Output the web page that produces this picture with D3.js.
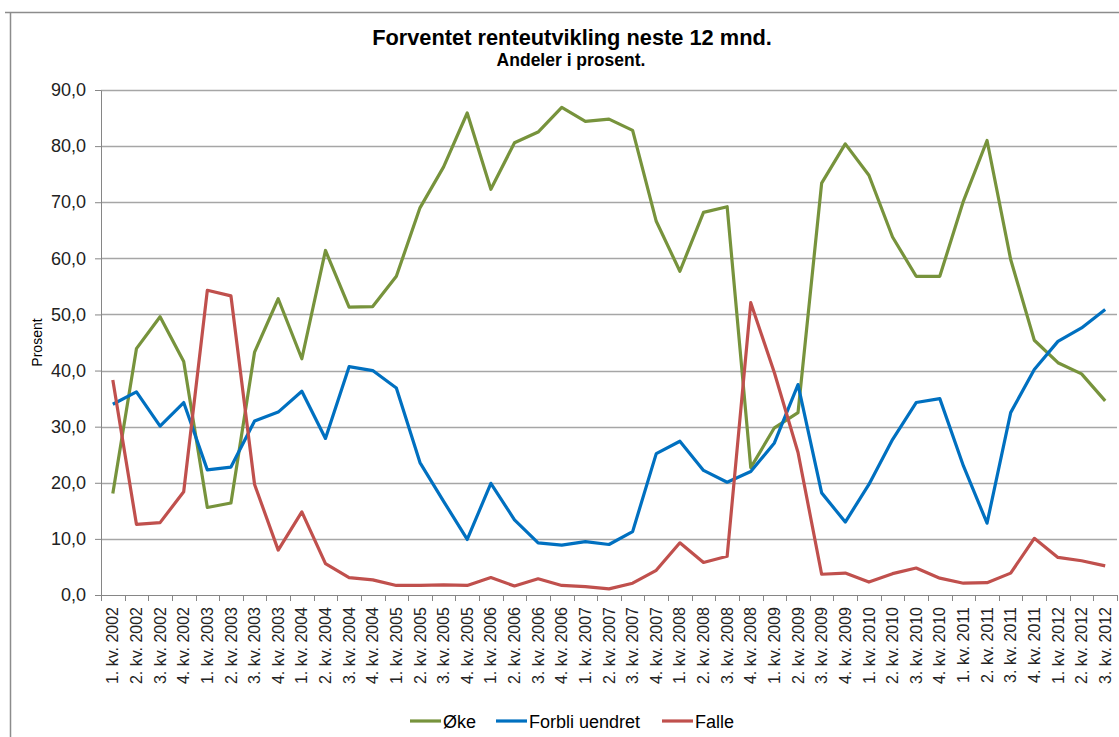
<!DOCTYPE html>
<html>
<head>
<meta charset="utf-8">
<script src="https://cdn.jsdelivr.net/npm/d3@7"></script>
<style>
  body { margin: 0; background: #fff; }
  svg { font-family: "Liberation Sans", Arial, sans-serif; display: block; }
</style>
</head>
<body>
<div id="chart"></div>
<script>
// Quarters 1. kv. 2002 .. 3. kv. 2012
const quarters = [];
for (let y = 2002; y <= 2012; y++) {
  for (let q = 1; q <= 4; q++) {
    if (y === 2012 && q > 3) break;
    quarters.push(`${q}. kv. ${y}`);
  }
}

const oke = [18.1, 43.9, 49.6, 41.6, 15.6, 16.4, 43.3, 52.8, 42.1, 61.4, 51.3, 51.4,
  56.8, 69.0, 76.3, 85.9, 72.3, 80.6, 82.5, 86.9, 84.4, 84.8, 82.8, 66.6, 57.7, 68.2,
  69.2, 22.7, 29.8, 32.5, 73.4, 80.4, 74.8, 63.8, 56.8, 56.8, 70.2, 81.0, 59.8, 45.4,
  41.4, 39.4, 34.6];
const uendret = [34.0, 36.2, 30.1, 34.3, 22.3, 22.8, 31.0, 32.6, 36.3, 27.9, 40.7, 40.0,
  36.9, 23.6, 16.7, 9.9, 19.9, 13.4, 9.3, 8.9, 9.5, 9.0, 11.3, 25.2, 27.4, 22.2,
  20.1, 22.0, 27.1, 37.5, 18.2, 13.0, 19.7, 27.7, 34.3, 35.0, 23.0, 12.8, 32.5, 40.2,
  45.2, 47.6, 50.9];
const falle = [38.3, 12.6, 12.9, 18.4, 54.3, 53.3, 19.7, 8.0, 14.8, 5.6, 3.1, 2.7,
  1.7, 1.7, 1.8, 1.7, 3.1, 1.6, 2.9, 1.7, 1.5, 1.1, 2.1, 4.4, 9.3, 5.8,
  6.9, 52.1, 39.6, 25.4, 3.7, 3.9, 2.3, 3.8, 4.8, 3.0, 2.1, 2.2, 3.9, 10.1,
  6.7, 6.1, 5.2];

const seriesNames = ["Øke", "Forbli uendret", "Falle"];
const seriesColors = ["#77933C", "#0070C0", "#C0504D"];
const yTicks = [0, 10, 20, 30, 40, 50, 60, 70, 80, 90];

const width = 1119, height = 737;
const margin = { top: 90, right: 2, bottom: 142, left: 101 };
const innerWidth = width - margin.left - margin.right;
const innerHeight = height - margin.top - margin.bottom;

const svg = d3.select("#chart").append("svg")
  .attr("width", width)
  .attr("height", height);

// chart frame (top and left edges visible)
svg.append("path")
  .attr("d", `M5,12.5H${width}M10.5,12.5V${height}`)
  .attr("fill", "none").attr("stroke", "#8c8c8c").attr("stroke-width", 1.5);

svg.append("text")
  .attr("x", 572).attr("y", 45)
  .attr("text-anchor", "middle")
  .style("font-size", "21.8px").style("font-weight", "bold")
  .text("Forventet renteutvikling neste 12 mnd.");
svg.append("text")
  .attr("x", 571).attr("y", 66)
  .attr("text-anchor", "middle")
  .style("font-size", "17.5px").style("font-weight", "bold")
  .text("Andeler i prosent.");

const g = svg.append("g")
  .attr("transform", `translate(${margin.left},${margin.top})`);

const x = d3.scaleBand().domain(quarters).range([0, innerWidth]);
const y = d3.scaleLinear().domain([0, 90]).range([innerHeight, 0]);

// gridlines
g.append("g")
  .selectAll("line")
  .data(yTicks.filter(d => d > 0))
  .join("line")
  .attr("x1", 0).attr("x2", innerWidth)
  .attr("y1", d => Math.round(y(d)) + 0.5).attr("y2", d => Math.round(y(d)) + 0.5)
  .attr("stroke", "#a6a6a6").attr("stroke-width", 1.3);

// y axis
const yAxis = g.append("g")
  .call(d3.axisLeft(y).tickValues(yTicks).tickSize(6).tickSizeOuter(0)
    .tickFormat(d => d3.format(".1f")(d).replace(".", ",")));
yAxis.select(".domain").attr("stroke", "#868686");
yAxis.selectAll(".tick line").attr("stroke", "#868686");
yAxis.selectAll(".tick text")
  .attr("x", -15)
  .style("font-size", "18px").style("font-family", "Liberation Sans, Arial, sans-serif")
  .attr("fill", "#222");

svg.append("text")
  .attr("transform", `translate(42, ${margin.top + innerHeight / 2}) rotate(-90)`)
  .attr("text-anchor", "middle")
  .style("font-size", "14px")
  .text("Prosent");

// x axis
const xAxis = g.append("g")
  .attr("transform", `translate(0,${innerHeight})`)
  .call(d3.axisBottom(x).tickSize(0).tickSizeOuter(0));
xAxis.select(".domain").attr("stroke", "#868686");
xAxis.selectAll(".tick text")
  .attr("transform", "rotate(-90)")
  .attr("x", -12).attr("y", 0).attr("dy", "0.35em")
  .attr("text-anchor", "end")
  .style("font-size", "16px").style("font-family", "Liberation Sans, Arial, sans-serif")
  .attr("fill", "#222");
// tick marks at category boundaries
g.append("g")
  .selectAll("line")
  .data(d3.range(quarters.length + 1))
  .join("line")
  .attr("x1", i => Math.round(i * x.step()) + 0.5)
  .attr("x2", i => Math.round(i * x.step()) + 0.5)
  .attr("y1", innerHeight).attr("y2", innerHeight + 6)
  .attr("stroke", "#868686");

// lines
const line = d3.line()
  .x((d, i) => x(quarters[i]) + x.bandwidth() / 2)
  .y(d => y(d));

[oke, uendret, falle].forEach((s, k) => {
  g.append("path")
    .datum(s)
    .attr("d", line)
    .attr("fill", "none")
    .attr("stroke", seriesColors[k])
    .attr("stroke-width", 3.2)
    .attr("stroke-linejoin", "round");
});

// legend
const legendX = [410, 496, 662];
const legend = svg.append("g").attr("transform", "translate(0,721)");
seriesNames.forEach((name, k) => {
  legend.append("line")
    .attr("x1", legendX[k]).attr("x2", legendX[k] + 31)
    .attr("y1", 0).attr("y2", 0)
    .attr("stroke", seriesColors[k]).attr("stroke-width", 3.2);
  legend.append("text")
    .attr("x", legendX[k] + 33).attr("y", 6.5)
    .style("font-size", "18px")
    .text(name);
});
</script>
</body>
</html>
